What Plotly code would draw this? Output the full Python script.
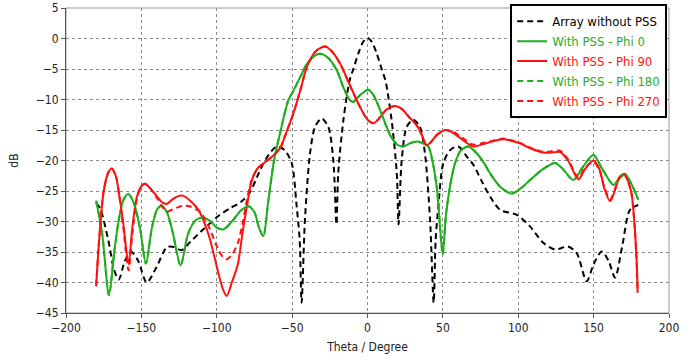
import plotly.graph_objects as go

# ---------------- data ----------------
arr_theta = [-180, -177.4, -172, -168, -165, -161, -157, -152, -146.5, -140, -133, -128, -123.5, -117, -109, -104, -99, -91, -84, -78, -72, -67, -60.2, -55, -50.3, -47, -45, -43.7,
             -41.5, -38.1, -34.8, -30.4, -26, -22.7, -20.6,
             -19.4, -16, -12, -9.4, -6, -3, 0, 3, 6, 9.4, 12, 16, 19.4,
             20.6, 22.7, 26, 30.4, 34.8, 38.1, 41.5,
             43.9, 45.2, 47, 50.3, 54.8, 60.2, 66, 70.2, 76, 81.3, 88, 99, 107.8, 116.6, 124.4, 133, 138.8, 145.4, 150, 155.4, 160, 164.2, 169, 174.1, 179.6]
arr_db = [-27, -27.8, -33, -38, -39.5, -36.5, -34.9, -36.5, -40, -37.5, -34.2, -34.2, -34.7, -33.2, -31.3, -30.2, -29.1, -27.8, -26.8, -25.2, -22, -19.6, -17.7, -18.3, -20.4, -27.5, -33, -43.3,
          -29.7, -18.8, -14.5, -13.1, -14.5, -19.9, -30.5,
          -22, -13.4, -7, -5, -2.4, -0.6, 0.1, -0.6, -2.4, -5, -7, -13.4, -22,
          -30.5, -19.9, -14.5, -13.3, -14.5, -18.8, -29.7,
          -43.3, -33, -27.5, -20.4, -18.3, -17.7, -19.4, -20.7, -23.5, -25.9, -28.1, -28.9, -30.8, -33.5, -34.6, -34.1, -35.2, -39.8, -37, -34.9, -36.5, -39.2, -34, -28.1, -27.3]

g0_theta = [-180, -176, -171.5, -168, -165.3, -162, -158.7, -155, -151, -147, -143, -139.5, -136.5, -133, -129, -124, -119, -114, -109, -104, -100, -95.6, -90, -84, -79, -75, -72, -69.1,
            -66, -62, -58, -52.5, -49, -44, -40, -36, -31.5, -26, -20.4, -16, -12, -9.4, -5, 0.5, 4, 8, 12.7, 16, 20.4, 23.7, 28, 32.6, 36, 40.3, 43, 46,
            49.9, 52, 54.7, 58, 62, 66.9, 72, 77, 81.3, 88, 95.7, 102, 107.8, 116, 124.4, 130, 136.5, 143, 149.8, 156, 163.1, 167, 170.8, 175, 179.6]
g0_db = [-26.6, -32, -42.1, -35, -30.2, -26.5, -25.5, -27, -31, -36.9, -31, -28, -27.4, -28.5, -32, -37.2, -32, -29.8, -29.4, -30, -31, -31.3, -30, -28.2, -27.5, -28.5, -31, -32.4,
         -27, -20, -15.5, -10.1, -8.5, -6, -4.1, -3, -2.5, -3.2, -5.2, -8, -10, -10.4, -9.3, -8.4, -9.3, -11.5, -14.5, -16.3, -17.5, -17.7, -17.2, -16.9, -17.1, -17.7, -20, -24.5,
         -35.4, -29, -24.3, -20.5, -18.3, -17.7, -18.7, -20.3, -22.1, -24.3, -25.4, -24.5, -23.2, -21.5, -20.4, -21.5, -23.2, -21, -19.1, -21.5, -24, -23, -22.2, -23.8, -26.4]

g180_theta = list(g0_theta)
g180_db = list(g0_db)

r90_theta = [-180, -178, -175, -172, -169.7, -167, -164.5, -162, -158.5, -156, -153, -150, -147.6, -144, -140, -136, -133, -129, -125, -122, -118, -114, -111, -105, -99, -96, -93.4, -90, -86, -83, -80, -77, -73, -68, -63, -58, -54, -49.2, -44, -40.3, -34, -28.2, -24, -18.2, -12, -5, 0, 3.9, 8, 12, 16, 19.3, 23, 28, 32.6, 36, 39.2, 42, 46, 52, 57, 63, 70.2, 77, 84, 90.1, 96, 101.2, 108, 116.6, 122, 127.7, 133, 139.9, 144, 149.8, 154, 157, 160.9, 164, 167, 170.2, 173, 175.2, 177, 178.5, 179.2]
r90_db = [-40.6, -33, -25, -22, -21.3, -22.5, -26, -30.3, -37, -31, -26, -24.2, -23.8, -24.6, -25.8, -26.9, -27.1, -26.3, -25.8, -25.8, -26.5, -27.5, -28.6, -32.5, -38.4, -41, -42.2, -40, -37, -32, -27.5, -23.5, -21.3, -20.3, -19.3, -18, -15.5, -12.3, -8, -4.7, -2, -1.3, -2, -4.1, -7.5, -11.2, -13.3, -13.9, -13, -11.8, -11.2, -11.1, -11.6, -13, -14.2, -15.8, -17.5, -17, -15.8, -15, -15.5, -16.6, -17.7, -17.3, -16.8, -16.5, -16.8, -17.2, -18, -18.7, -18.7, -18.6, -20, -23.1, -21.5, -20, -21.5, -24.5, -26.7, -25, -22.8, -22.2, -23.5, -25.4, -30, -36.2, -41.7]

r270_theta = list(r90_theta)
r270_db = [-40.6, -33, -25, -22, -21.3, -22.5, -26, -31, -38, -32, -26.3, -24.2, -23.8, -24.6, -26, -27.6, -28.4, -28, -27.6, -27.4, -27.5, -28, -28.4, -31, -34.6, -35.8, -36.2, -35.5, -33.5, -30.5, -26.5, -23.3, -21.3, -20.3, -19.3, -18, -15.5, -12.3, -8, -4.7, -2, -1.3, -2, -4.1, -7.5, -11.2, -13.3, -13.9, -13, -11.8, -11.2, -11.1, -11.6, -13, -14.2, -15.8, -17.5, -17, -15.8, -15, -15.3, -16.3, -17.4, -17.1, -16.7, -16.4, -16.7, -17.1, -17.9, -18.6, -18.5, -18.4, -19.8, -22.8, -21.3, -20.2, -21.7, -24.3, -26.4, -24.8, -22.8, -22.3, -23.6, -25.6, -30.2, -36.5, -41.5]

names = ["Array without PSS", "With PSS - Phi 0", "With PSS - Phi 90", "With PSS - Phi 180", "With PSS - Phi 270"]

BLACK = "#000000"
GREEN = "#1fae1f"
RED = "#ff1010"

FONT = "DejaVu Sans Condensed, DejaVu Sans, sans-serif"

fig = go.Figure()

series = [
    (arr_theta, arr_db, names[0], BLACK, "6px,4px"),
    (g0_theta, g0_db, names[1], GREEN, "solid"),
    (r90_theta, r90_db, names[2], RED, "solid"),
    (g180_theta, g180_db, names[3], GREEN, "6px,4px"),
    (r270_theta, r270_db, names[4], RED, "6px,4px"),
]
for th, db, nm, col, dash in series:
    fig.add_trace(go.Scatter(
        x=th, y=db, mode="lines",
        name=f'<span style="color:{col}">{nm}</span>',
        line=dict(color=col, width=2, dash=dash, shape="spline", smoothing=0.8),
    ))

fig.add_shape(type="rect", xref="paper", yref="paper", x0=0, x1=1, y0=0, y1=1,
              line=dict(color="#9a9a9a", width=1), layer="below")

axis_common = dict(
    showgrid=True, gridcolor="#8a8a8a", griddash="dot", gridwidth=1,
    showline=True, linecolor="#555555", linewidth=1,
    ticks="outside", ticklen=4, tickcolor="#555555", zeroline=False,
    tickfont=dict(family=FONT, size=12, color="#222222"),
    automargin=False,
)

fig.update_xaxes(range=[-200, 200], dtick=50, tick0=-200,
                 title=dict(text="Theta / Degree", font=dict(family=FONT, size=12, color="#222222"), standoff=8),
                 **axis_common)
fig.update_yaxes(range=[-45, 5], dtick=5, tick0=-45,
                 title=dict(text="dB", font=dict(family=FONT, size=12, color="#222222"), standoff=14),
                 **axis_common)

fig.update_layout(
    width=700, height=360,
    margin=dict(l=66, r=31, t=8, b=47, autoexpand=False),
    plot_bgcolor="white", paper_bgcolor="white",
    font=dict(family=FONT, size=12, color="#222222"),
    legend=dict(x=0.997, y=1.012, xanchor="right", yanchor="top",
                bgcolor="white", bordercolor="black", borderwidth=2,
                font=dict(family=FONT, size=13), itemwidth=30, tracegroupgap=0),
    showlegend=True,
)

fig.write_html("out.html", config={"displayModeBar": False},
               post_script="document.body.style.margin='0';document.body.style.padding='0';")
